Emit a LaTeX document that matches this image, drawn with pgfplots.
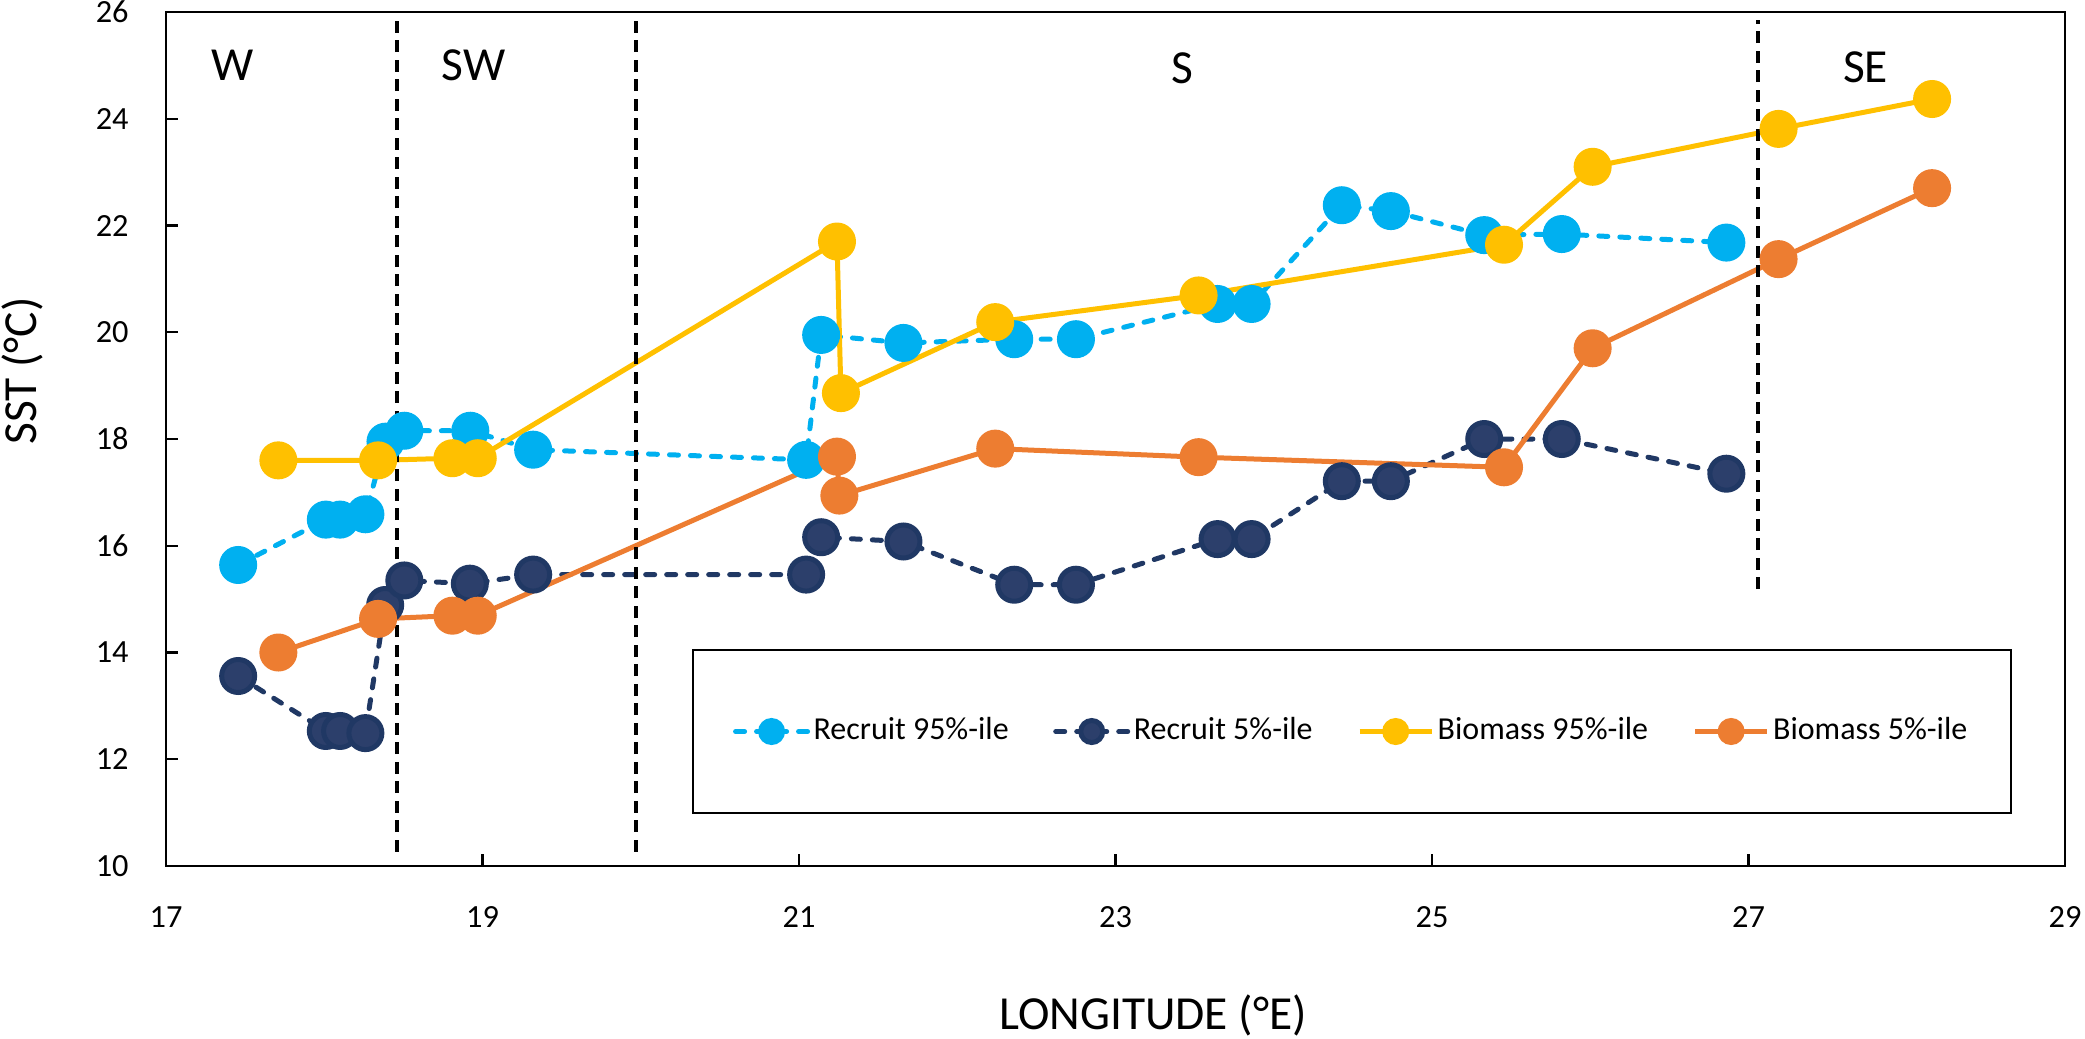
\documentclass[border=0pt]{standalone}
\usepackage{fontspec}
\setmainfont{Carlito}
\usepackage{pgfplots}
\pgfplotsset{compat=1.18}
\definecolor{lblue}{HTML}{00B0F0}
\definecolor{dblue}{HTML}{203864}
\definecolor{dbluefill}{HTML}{2C3F6B}
\definecolor{gold}{HTML}{FFC000}
\definecolor{orng}{HTML}{ED7D31}
\begin{document}
\begin{tikzpicture}
\path[use as bounding box] (-1.66,-1.72) rectangle (19.19,8.66);
\begin{axis}[
  scale only axis,
  width=18.99cm, height=8.54cm,
  at={(0,0)}, anchor=south west,
  xmin=17, xmax=29, ymin=10, ymax=26,
  xtick={17,19,...,29}, ytick={10,12,...,26},
  xtick pos=left, ytick pos=left,
  tick align=inside,
  major tick length=0.12cm,
  axis line style={line width=0.6pt},
  every tick/.style={black, line width=0.6pt},
  /pgf/number format/assume math mode=true,
  tick label style={font=\fontsize{9.2}{11}\selectfont},
  xticklabel style={yshift=-0.28cm},
  yticklabel style={xshift=-0.25cm},
  xlabel={LONGITUDE (°E)},
  xlabel style={at={(axis description cs:0.5197,0)}, anchor=center, yshift=-1.49cm, font=\fontsize{13.5}{15}\selectfont},
  ylabel={SST (°C)},
  ylabel style={at={(axis description cs:-0.0758,0.5796)}, anchor=center, font=\fontsize{13.5}{15}\selectfont},
  clip=false,
  legend columns=4,
  legend cell align=left,
  legend image code/.code={\draw[mark repeat=2,mark phase=2,#1,mark size=0.11cm] plot coordinates {(0cm,0cm) (0.36cm,0cm) (0.72cm,0cm)};},
  legend style={at={(0.277,0.1575)}, anchor=west, draw=black, line width=0.6pt,
    inner xsep=0.40cm, inner ysep=0.64cm,
    nodes={inner sep=1pt, text depth=0.15em},
    font=\fontsize{9.1}{11}\selectfont,
    /tikz/every even column/.append style={column sep=0.41cm}},
]
\addplot[lblue, line width=0.05cm, line cap=round, dash pattern=on 0.09cm off 0.12cm,
  mark=*, mark size=0.165cm, mark options={solid, fill=lblue, draw=lblue}] coordinates {
(17.456,15.64) (18.01,16.49) (18.10,16.49) (18.26,16.59) (18.387,17.95)
(18.506,18.155) (18.923,18.155) (19.32,17.80) (21.045,17.61) (21.14,19.95)
(21.66,19.80) (22.36,19.87) (22.75,19.87) (23.645,20.53) (23.86,20.53)
(24.43,22.38) (24.74,22.27) (25.33,21.82) (25.82,21.84) (26.86,21.68)};
\addlegendentry{Recruit 95\%-ile}
\addplot[dblue, line width=0.05cm, line cap=round, dash pattern=on 0.09cm off 0.12cm,
  mark=*, mark size=0.165cm, mark options={solid, fill=dbluefill, draw=dblue}] coordinates {
(17.456,13.56) (18.01,12.53) (18.10,12.53) (18.26,12.49) (18.385,14.89)
(18.506,15.35) (18.92,15.29) (19.32,15.46) (21.045,15.46) (21.14,16.16)
(21.66,16.08) (22.36,15.27) (22.75,15.27) (23.645,16.125) (23.86,16.125)
(24.43,17.21) (24.74,17.21) (25.33,18.0) (25.82,18.0) (26.86,17.35)};
\addlegendentry{Recruit 5\%-ile}
\addplot[gold, line width=0.05cm, mark=*, mark size=0.165cm, mark options={solid, fill=gold, draw=gold}] coordinates {
(17.71,17.60) (18.34,17.60) (18.81,17.64) (18.97,17.64) (21.24,21.70)
(21.265,18.86) (22.24,20.19) (23.525,20.69) (25.455,21.64) (26.015,23.10)
(27.19,23.81) (28.16,24.37)};
\addlegendentry{Biomass 95\%-ile}
\addplot[orng, line width=0.05cm, mark=*, mark size=0.165cm, mark options={solid, fill=orng, draw=orng}] coordinates {
(17.71,14.0) (18.34,14.63) (18.81,14.69) (18.97,14.69) (21.24,17.67)
(21.255,16.94) (22.24,17.82) (23.525,17.66) (25.455,17.47) (26.015,19.70)
(27.19,21.37) (28.16,22.70)};
\addlegendentry{Biomass 5\%-ile}
\addplot[black, line width=0.9pt, dash pattern=on 0.12cm off 0.075cm, forget plot] coordinates {(18.46,10.27) (18.46,25.85)};
\addplot[black, line width=0.9pt, dash pattern=on 0.12cm off 0.075cm, forget plot] coordinates {(19.97,10.27) (19.97,25.85)};
\addplot[black, line width=0.9pt, dash pattern=on 0.12cm off 0.075cm, forget plot] coordinates {(27.06,15.19) (27.06,25.85)};
\node[font=\fontsize{13.5}{15}\selectfont, anchor=center, inner sep=0pt] at (axis cs:17.42,25.01) {W};
\node[font=\fontsize{13.5}{15}\selectfont, anchor=center, inner sep=0pt] at (axis cs:18.943,25.01) {SW};
\node[font=\fontsize{13.5}{15}\selectfont, anchor=center, inner sep=0pt] at (axis cs:23.42,24.95) {S};
\node[font=\fontsize{13.5}{15}\selectfont, anchor=center, inner sep=0pt] at (axis cs:27.74,24.96) {SE};
\end{axis}
\end{tikzpicture}
\end{document}
